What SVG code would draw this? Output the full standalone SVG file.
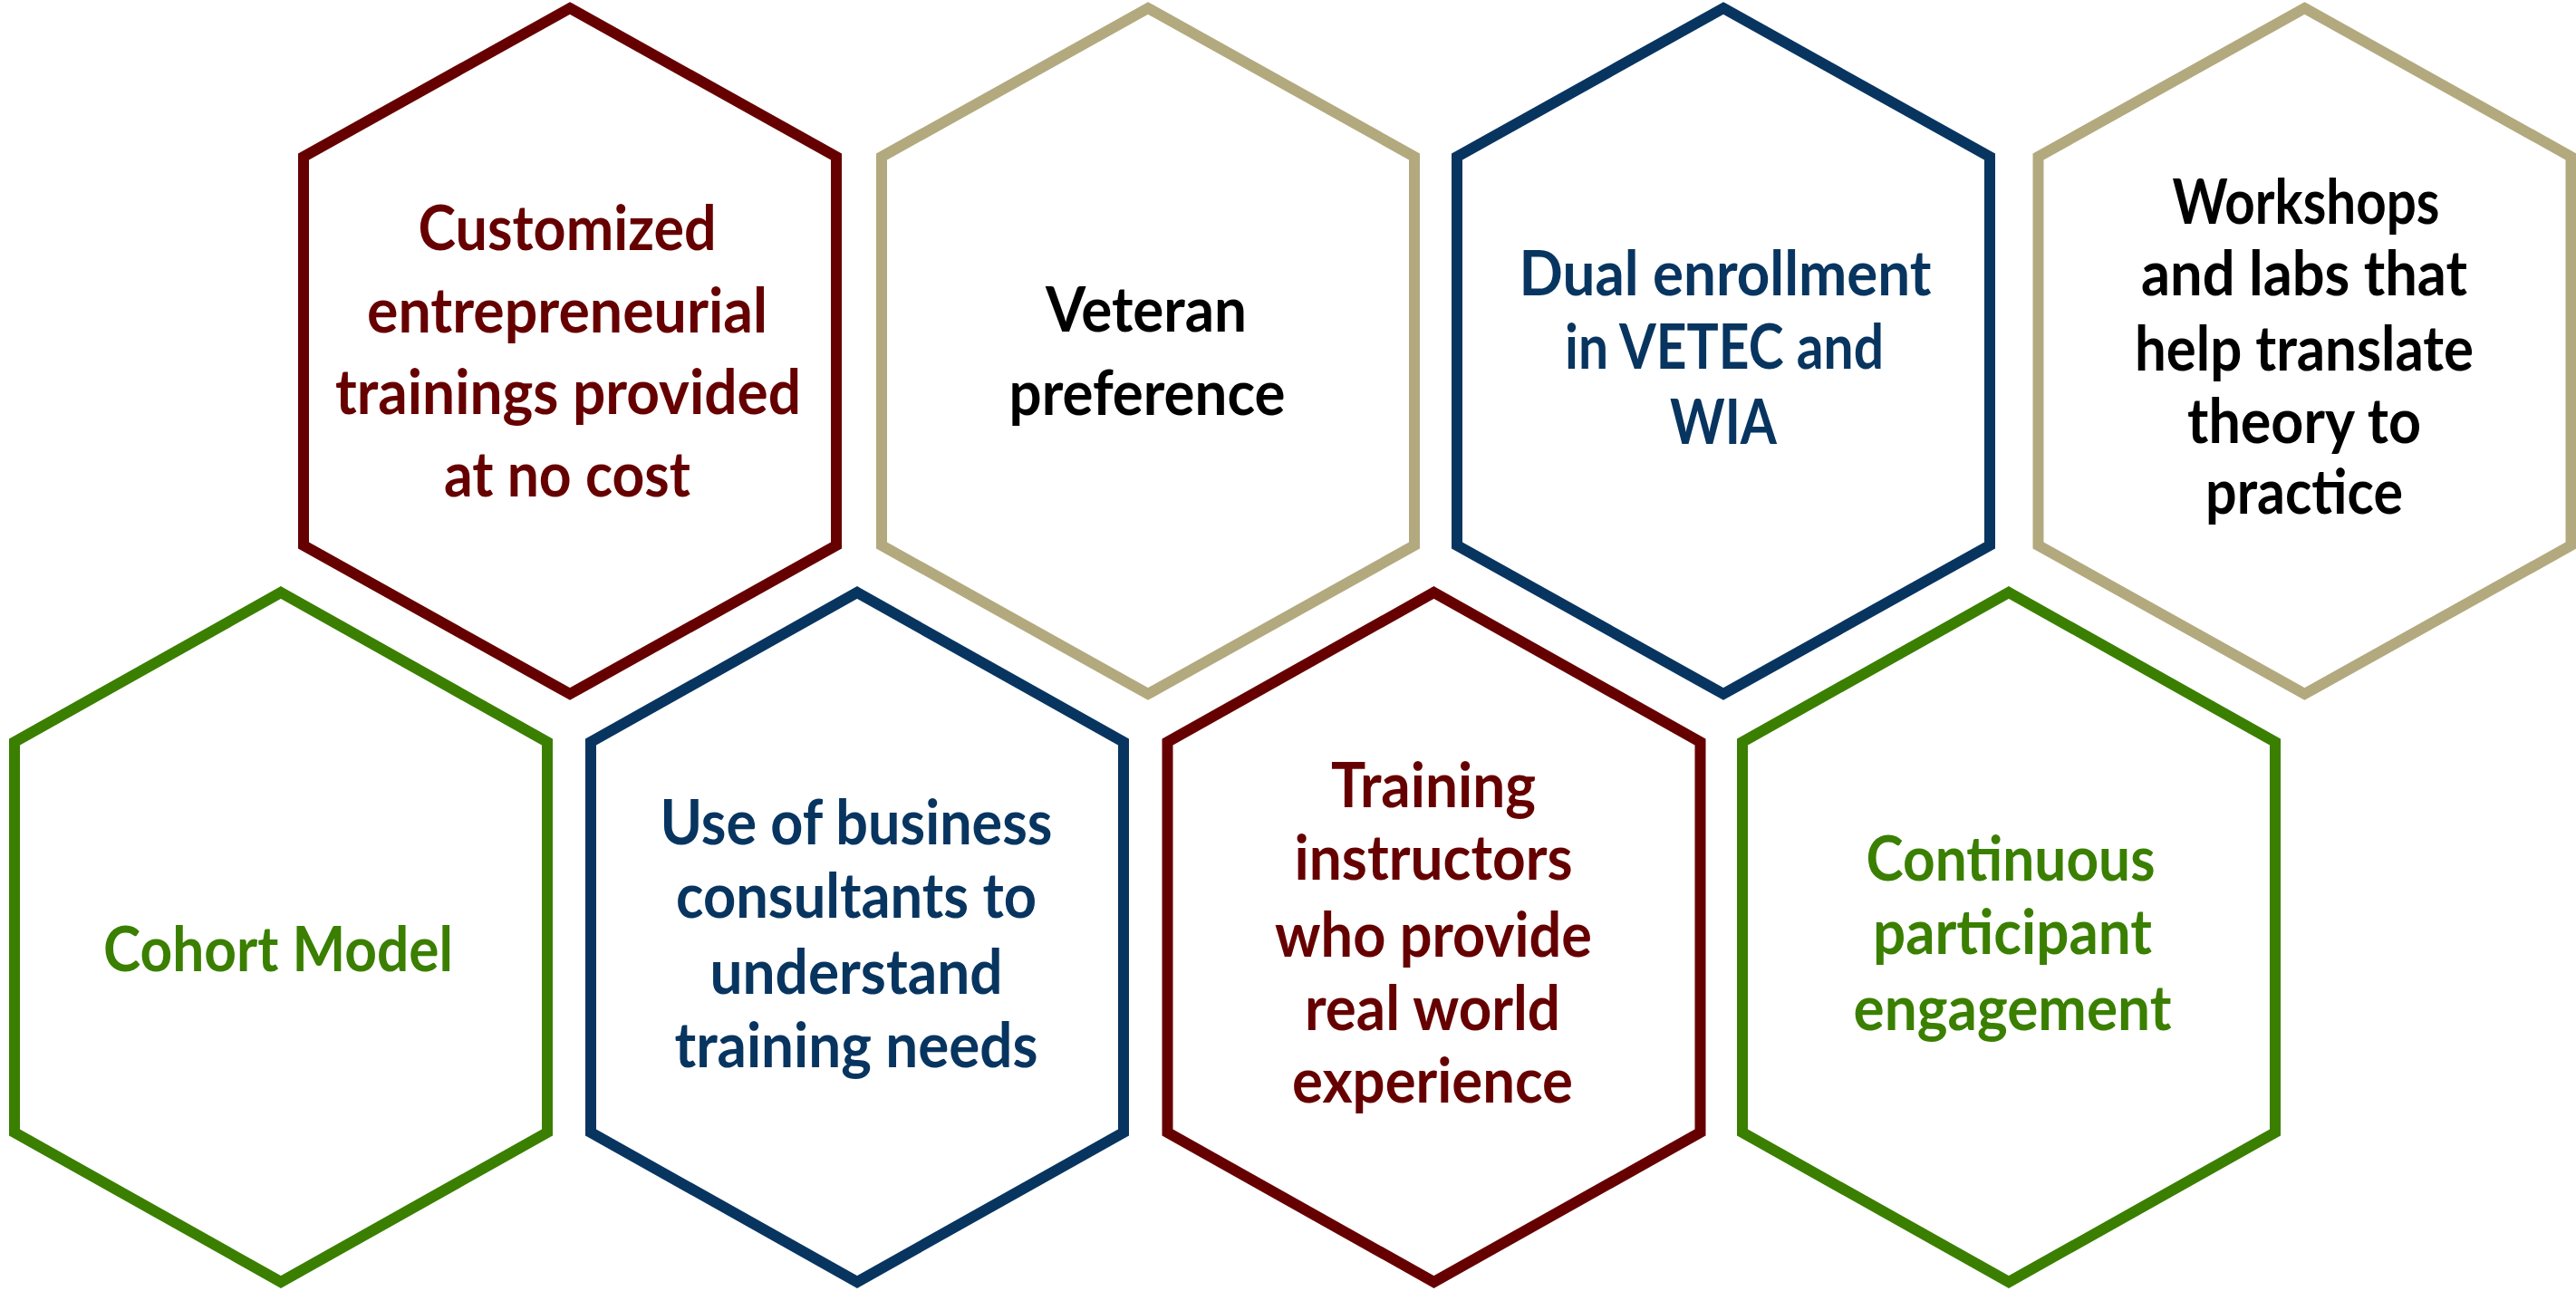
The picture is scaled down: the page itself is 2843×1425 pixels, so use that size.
<svg xmlns="http://www.w3.org/2000/svg" width="2843" height="1425" viewBox="0 0 2843 1425">
<style>
.hex{fill:#FFFFFF;stroke-width:12;stroke-linejoin:miter;stroke-miterlimit:10}
.red{stroke:#660000}
.tan{stroke:#B3A97E}
.navy{stroke:#083560}
.green{stroke:#3A7F00}
text{font-family:Lato,"Open Sans","Liberation Sans",sans-serif;font-weight:700;font-size:68px;text-anchor:middle}
.tred{fill:#660000}
.tblk{fill:#000000}
.tnavy{fill:#083560}
.tgreen{fill:#3A7F00}
</style>
<rect x="0" y="0" width="2843" height="1425" fill="#FFFFFF"/>
<g id="connectors"/>
<g id="node-customized">
<polygon class="hex red" points="629,9 923,173 923,602 629,766 335,602 335,173"/>
<text class="tred" x="626" y="276" textLength="329" lengthAdjust="spacingAndGlyphs">Customized</text>
<text class="tred" x="626" y="367" textLength="442" lengthAdjust="spacingAndGlyphs">entrepreneurial</text>
<text class="tred" x="627" y="457" textLength="514" lengthAdjust="spacingAndGlyphs">trainings provided</text>
<text class="tred" x="626" y="548" textLength="272" lengthAdjust="spacingAndGlyphs">at no cost</text>
</g>
<g id="node-veteran">
<polygon class="hex tan" points="1267,9 1561,173 1561,602 1267,766 973,602 973,173"/>
<text class="tblk" x="1265" y="366" textLength="222" lengthAdjust="spacingAndGlyphs">Veteran</text>
<text class="tblk" x="1266" y="458" textLength="305" lengthAdjust="spacingAndGlyphs">preference</text>
</g>
<g id="node-dual">
<polygon class="hex navy" points="1902,9 2196,173 2196,602 1902,766 1608,602 1608,173"/>
<text class="tnavy" x="1904" y="326" textLength="455" lengthAdjust="spacingAndGlyphs">Dual enrollment</text>
<text class="tnavy" x="1903" y="407" textLength="352" lengthAdjust="spacingAndGlyphs">in VETEC and</text>
<text class="tnavy" x="1902" y="490" textLength="118" lengthAdjust="spacingAndGlyphs">WIA</text>
</g>
<g id="node-workshops">
<polygon class="hex tan" points="2543.5,9 2837.5,173 2837.5,602 2543.5,766 2249.5,602 2249.5,173"/>
<text class="tblk" x="2545" y="247" textLength="295" lengthAdjust="spacingAndGlyphs">Workshops</text>
<text class="tblk" x="2543" y="326" textLength="360" lengthAdjust="spacingAndGlyphs">and labs that</text>
<text class="tblk" x="2543" y="409" textLength="374" lengthAdjust="spacingAndGlyphs">help translate</text>
<text class="tblk" x="2543" y="489" textLength="258" lengthAdjust="spacingAndGlyphs">theory to</text>
<text class="tblk" x="2543" y="567" textLength="218" lengthAdjust="spacingAndGlyphs">practice</text>
</g>
<g id="node-cohort">
<polygon class="hex green" points="310,654 604,819 604,1250 310,1415 16,1250 16,819"/>
<text class="tgreen" x="307" y="1072" textLength="386" lengthAdjust="spacingAndGlyphs">Cohort Model</text>
</g>
<g id="node-consultants">
<polygon class="hex navy" points="946,654 1240,819 1240,1250 946,1415 652,1250 652,819"/>
<text class="tnavy" x="945" y="932" textLength="433" lengthAdjust="spacingAndGlyphs">Use of business</text>
<text class="tnavy" x="945" y="1013" textLength="398" lengthAdjust="spacingAndGlyphs">consultants to</text>
<text class="tnavy" x="945" y="1097" textLength="323" lengthAdjust="spacingAndGlyphs">understand</text>
<text class="tnavy" x="945" y="1178" textLength="401" lengthAdjust="spacingAndGlyphs">training needs</text>
</g>
<g id="node-instructors">
<polygon class="hex red" points="1582.5,654 1876.5,819 1876.5,1250 1582.5,1415 1288.5,1250 1288.5,819"/>
<text class="tred" x="1582" y="891" textLength="226" lengthAdjust="spacingAndGlyphs">Training</text>
<text class="tred" x="1582" y="971" textLength="307" lengthAdjust="spacingAndGlyphs">instructors</text>
<text class="tred" x="1582" y="1056" textLength="350" lengthAdjust="spacingAndGlyphs">who provide</text>
<text class="tred" x="1581" y="1137" textLength="282" lengthAdjust="spacingAndGlyphs">real world</text>
<text class="tred" x="1581" y="1217" textLength="310" lengthAdjust="spacingAndGlyphs">experience</text>
</g>
<g id="node-engagement">
<polygon class="hex green" points="2217,654 2511,819 2511,1250 2217,1415 1923,1250 1923,819"/>
<text class="tgreen" x="2219" y="972" textLength="319" lengthAdjust="spacingAndGlyphs">Continuous</text>
<text class="tgreen" x="2221" y="1053" textLength="308" lengthAdjust="spacingAndGlyphs">participant</text>
<text class="tgreen" x="2221" y="1137" textLength="351" lengthAdjust="spacingAndGlyphs">engagement</text>
</g>
</svg>
